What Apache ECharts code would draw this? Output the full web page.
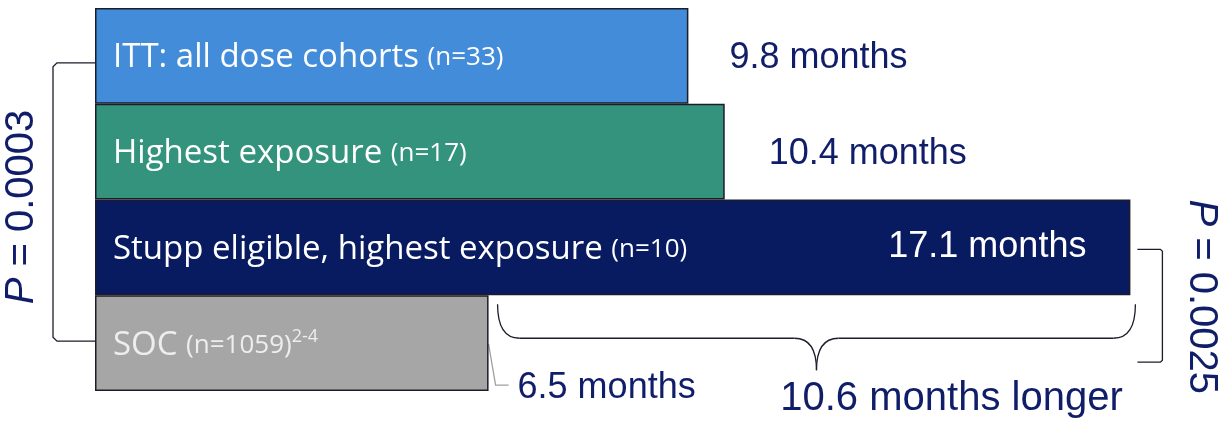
<!DOCTYPE html>
<html><head><meta charset="utf-8">
<script src="https://cdn.jsdelivr.net/npm/echarts@6/dist/echarts.min.js"></script>
<style>html,body{margin:0;padding:0;background:#fff;}#c{width:1224px;height:423px;}</style>
</head><body><div id="c"></div>
<script>
// ---- data ----
const categories = ['ITT: all dose cohorts', 'Highest exposure', 'Stupp eligible, highest exposure', 'SOC'];
const sampleSizes = ['(n=33)', '(n=17)', '(n=10)', '(n=1059)'];
const superscripts = ['', '', '', '2-4'];
const medianMonths = [9.8, 10.4, 17.1, 6.5];
const valueLabels = ['9.8 months', '10.4 months', '17.1 months', '6.5 months'];
const pValueLeft = '0.0003';
const pValueRight = '0.0025';
const differenceLabel = '10.6 months longer';

// ---- styles ----
const barColors = ['#438cd9', '#33937c', '#081a60', '#a6a6a6'];
const catTextColors = ['#ffffff', '#ffffff', '#ffffff', '#eeeeee'];
const navy = '#101e6a';
const bodyFont = 'Open Sans';
const numFont = 'Liberation Sans';

const chart = echarts.init(document.getElementById('c'), null, {renderer: 'canvas'});

const mainData = medianMonths.map((v, i) => ({
  value: v,
  itemStyle: {color: barColors[i]},
  label: {
    formatter: '{a|' + categories[i] + ' }{b|' + sampleSizes[i] + '}' + (superscripts[i] ? '{c|' + superscripts[i] + '}' : ''),
    rich: {
      a: {fontFamily: bodyFont, fontSize: 33, color: catTextColors[i]},
      b: {fontFamily: bodyFont, fontSize: 26, color: catTextColors[i]},
      c: {fontFamily: bodyFont, fontSize: 18, color: catTextColors[i], padding: [0, 0, 16, 0]}
    }
  }
}));

const labelPlacement = [
  {position: 'right', distance: 41, offset: [0, 2], color: navy},
  {position: 'right', distance: 44, offset: [0, 2], color: navy},
  {position: 'insideRight', distance: 44, offset: [0, 0], color: '#ffffff'},
  {position: 'right', distance: 29, offset: [0, 45], color: navy}
];

const valueData = medianMonths.map((v, i) => ({
  value: v,
  label: Object.assign({
    show: true,
    formatter: valueLabels[i],
    fontFamily: numFont,
    fontSize: 36
  }, labelPlacement[i])
}));

const maxX = 18;
const left = 95;
const pxPerMonth = 60.55;

chart.setOption({
  animation: false,
  backgroundColor: '#ffffff',
  grid: {left: left, top: 8, height: 383, width: maxX * pxPerMonth},
  xAxis: {type: 'value', min: 0, max: maxX, show: false},
  yAxis: {type: 'category', data: categories, inverse: true, show: false},
  series: [
    {
      type: 'bar',
      data: mainData,
      barWidth: '100%',
      barGap: '-100%',
      itemStyle: {borderColor: '#1c1c2a', borderWidth: 1.5},
      label: {show: true, position: 'insideLeft', distance: 18, offset: [0, 2]},
      z: 2
    },
    {
      type: 'bar',
      data: valueData,
      barWidth: '100%',
      barGap: '-100%',
      silent: true,
      itemStyle: {color: 'rgba(0,0,0,0)', borderWidth: 0},
      z: 3
    }
  ]
});

// ---- annotations computed from the axes ----
const px = v => chart.convertToPixel({xAxisIndex: 0}, v);
const py = i => chart.convertToPixel({yAxisIndex: 0}, i);
const x0 = px(0);
const band = py(1) - py(0);
const yC = [0, 1, 2, 3].map(py);
const xEnd = medianMonths.map(px);
const stuppBottom = yC[2] + band / 2;

const lineStyle = {stroke: '#1c1c2a', lineWidth: 1.3, fill: null};
const els = [];

// left bracket (ITT vs SOC)
const lbX = x0 - 42, lbTop = yC[0] + 7, lbBot = yC[3] - 2;
els.push({type: 'polyline', shape: {points: [[x0, lbTop], [lbX + 4, lbTop], [lbX, lbTop + 4], [lbX, lbBot - 4], [lbX + 4, lbBot], [x0, lbBot]]}, style: lineStyle});

// curly brace (difference Stupp vs SOC)
const bL = xEnd[3] + 9, bR = xEnd[2] + 5;
const bTop = stuppBottom + 9, bMid = bTop + 34, bTip = bMid + 32;
const bC = (bL + bR) / 2;
const r = 22;
els.push({type: 'bezierCurve', shape: {x1: bL, y1: bTop, cpx1: bL, cpy1: bMid, x2: bL + r, y2: bMid}, style: lineStyle});
els.push({type: 'line', shape: {x1: bL + r, y1: bMid, x2: bC - r, y2: bMid}, style: lineStyle});
els.push({type: 'bezierCurve', shape: {x1: bC - r, y1: bMid, cpx1: bC, cpy1: bMid, x2: bC, y2: bTip}, style: lineStyle});
els.push({type: 'bezierCurve', shape: {x1: bC + r, y1: bMid, cpx1: bC, cpy1: bMid, x2: bC, y2: bTip}, style: lineStyle});
els.push({type: 'line', shape: {x1: bC + r, y1: bMid, x2: bR - r, y2: bMid}, style: lineStyle});
els.push({type: 'bezierCurve', shape: {x1: bR, y1: bTop, cpx1: bR, cpy1: bMid, x2: bR - r, y2: bMid}, style: lineStyle});

// right bracket (Stupp vs SOC)
const rbX = xEnd[2] + 32, rbTop = yC[2] + 2, rbBot = yC[3] + 19;
els.push({type: 'polyline', shape: {points: [[rbX - 25, rbTop], [rbX - 2, rbTop], [rbX, rbTop + 2], [rbX, rbBot - 2], [rbX - 2, rbBot], [rbX - 25, rbBot]]}, style: lineStyle});

// SOC leader line
els.push({type: 'polyline', shape: {points: [[xEnd[3], yC[3] + 1], [xEnd[3] + 7, yC[3] + 42], [xEnd[3] + 20, yC[3] + 42]]}, style: {stroke: '#a0a0a0', lineWidth: 1.3, fill: null}});

// p-value texts
els.push({
  type: 'text', x: x0 - 73, y: (lbTop + lbBot) / 2 + 5, rotation: Math.PI / 2,
  style: {text: '{i|P} = ' + pValueLeft, x: 0, y: 0, align: 'center', verticalAlign: 'middle',
    font: '40px "Liberation Sans"', fill: navy,
    rich: {i: {fontStyle: 'italic', fontSize: 40, fontFamily: numFont, fill: navy}}}
});
els.push({
  type: 'text', x: rbX + 39, y: (rbTop + rbBot) / 2 - 9, rotation: -Math.PI / 2,
  style: {text: '{i|P} = ' + pValueRight, x: 0, y: 0, align: 'center', verticalAlign: 'middle',
    font: '40px "Liberation Sans"', fill: navy,
    rich: {i: {fontStyle: 'italic', fontSize: 40, fontFamily: numFont, fill: navy}}}
});
// difference label
els.push({
  type: 'text', x: bC + 135, y: yC[3] + 56,
  style: {text: differenceLabel, x: 0, y: 0, align: 'center', verticalAlign: 'middle',
    font: '40px "Liberation Sans"', fill: navy}
});

chart.setOption({graphic: {elements: els}});
</script>
</body></html>
